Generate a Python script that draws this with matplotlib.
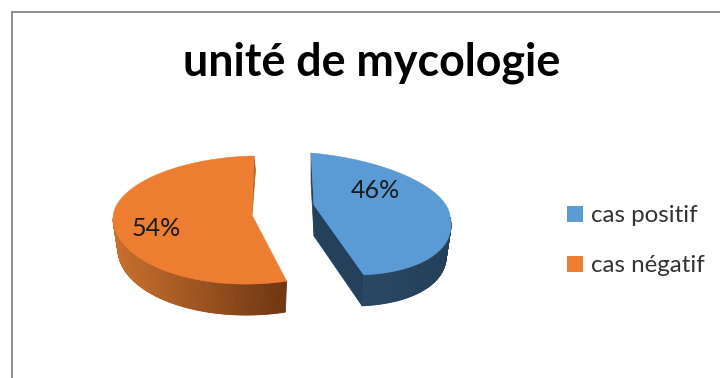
import numpy as np
import matplotlib
matplotlib.use("Agg")
import matplotlib.pyplot as plt
from matplotlib.patches import Patch, Polygon
from matplotlib.colors import to_rgb

title = "unité de mycologie"
categories = ["cas positif", "cas négatif"]
values = [46, 54]
colors = ["#5B9BD5", "#ED7D31"]

plt.rcParams['font.family'] = ['Lato', 'DejaVu Sans']
fig = plt.figure(figsize=(7.2, 3.78), dpi=100)
ax = fig.add_axes([0, 0, 1, 1])
ax.set_xlim(0, 720)
ax.set_ylim(378, 0)
ax.axis("off")

DEPTH = 31
SHRINK = 0.965
GEOM = [
    dict(cx=314, cy=205, rx=136, top=52, bot=69, skew_t=3, skew_b=16.5, sy=12,
         side=("#24405A", "#2A4A68"), wall="#24405A"),
    dict(cx=252, cy=215, rx=139, top=59, bot=69, skew_t=-2, skew_b=0, sy=-3,
         side=("#6E3510", "#C8702E"), wall="#B5621F"),
]


def project(g, th):
    u, v = np.cos(th), np.sin(th)
    x = g["cx"] + g["rx"] * u + np.where(v > 0, -g["skew_t"] * v, -g["skew_b"] * v)
    y = g["cy"] + g["sy"] * u - np.where(v > 0, g["top"] * v, g["bot"] * v)
    return np.column_stack([x, y])


def lower(g, p):
    p = np.asarray(p, float)
    return np.array([g["cx"] + (p[0] - g["cx"]) * SHRINK, p[1] + DEPTH])


def mix(a, b, t):
    a, b = np.array(to_rgb(a)), np.array(to_rgb(b))
    return tuple(a + (b - a) * t)


total = sum(values)
sweep = [2 * np.pi * v / total for v in values]
# positive slice runs clockwise from 12 o'clock, negative slice anticlockwise
arcs = [np.linspace(np.pi / 2, np.pi / 2 - sweep[0], 240),
        np.linspace(np.pi / 2, np.pi / 2 + sweep[1], 240)]

for g, th, col in zip(GEOM, arcs, colors):
    rim = project(g, th)
    apex = np.array([g["cx"], g["cy"]], float)
    # inner walls
    if g is GEOM[0]:
        ax.add_patch(Polygon([rim[0], apex, lower(g, apex), lower(g, rim[0])], fc=g["wall"], ec=g["wall"], lw=0.5))
        ax.add_patch(Polygon([apex, rim[-1], lower(g, rim[-1]), lower(g, apex)], fc=g["wall"], ec=g["wall"], lw=0.5))
    else:
        ax.add_patch(Polygon([rim[0], apex, rim[0] + np.array([1.5, 14])], fc=g["wall"], ec=g["wall"], lw=0.5))
    # outer side, drawn as strips for the shading
    xmin, xmax = rim[:, 0].min(), rim[:, 0].max()
    vis = np.where(np.sin(th) <= 0)[0]
    for i, j in zip(vis[:-1], vis[1:]):
        t = (rim[i, 0] - xmin) / (xmax - xmin)
        c = mix(g["side"][0], g["side"][1], 1 - t)
        ax.add_patch(Polygon([rim[i], rim[j], lower(g, rim[j]), lower(g, rim[i])], fc=c, ec=c, lw=0.6))
    # top face
    ax.add_patch(Polygon(np.vstack([apex, rim]), fc=col, ec=col, lw=0.4))

# frame
ax.plot([11.5, 11.5, 720], [378, 11.5, 11.5], color="#8C8C8C", lw=1.4, solid_joinstyle="miter")

ax.text(372, 63, title, fontsize=32.2, fontweight="bold", ha="center", va="center", color="black")

label_pos = [(375, 190), (156, 228)]
for v, (x, y) in zip(values, label_pos):
    ax.text(x, y, f"{v}%", fontsize=18, ha="center", va="center", color="#1A1A1A")

handles = [Patch(facecolor=c, label=n) for c, n in zip(colors, categories)]
ax.legend(handles=handles, loc="center left", bbox_to_anchor=(567 / 720, 1 - 241 / 378),
          frameon=False, fontsize=17.4, handlelength=0.68, handleheight=0.68,
          handletextpad=0.32, labelspacing=1.2, borderpad=0, borderaxespad=0,
          labelcolor="#333333")

fig.savefig("out.png", dpi=100, facecolor="white")
